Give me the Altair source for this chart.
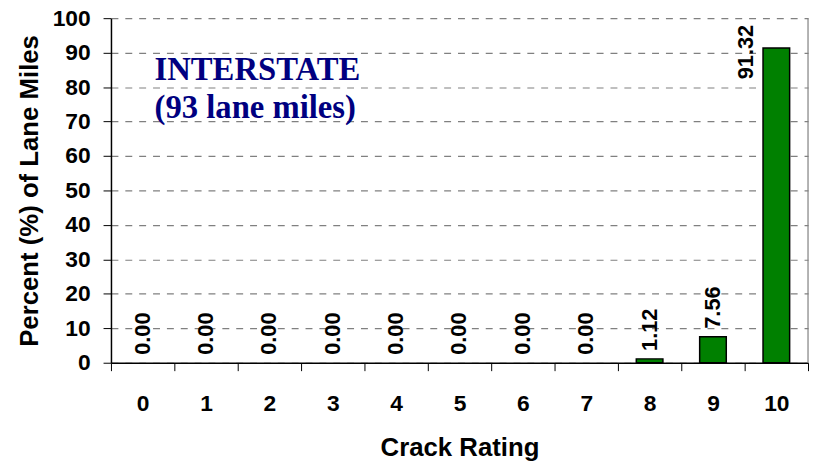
import altair as alt
import pandas as pd

ratings = ["0", "1", "2", "3", "4", "5", "6", "7", "8", "9", "10"]
percent = [0.00, 0.00, 0.00, 0.00, 0.00, 0.00, 0.00, 0.00, 1.12, 7.56, 91.32]
y_ticks = [0, 10, 20, 30, 40, 50, 60, 70, 80, 90, 100]
annotation = ["INTERSTATE", "(93 lane miles)"]

df = pd.DataFrame({"rating": ratings, "pct": percent})

W, H = 704, 348
SANS = "Liberation Sans"

x = alt.X(
    "rating:N",
    sort=ratings,
    scale=alt.Scale(paddingInner=0, paddingOuter=0),
    axis=alt.Axis(
        title="Crack Rating",
        labelAngle=0,
        tickBand="extent",
        tickSize=8,
        tickColor="black",
        domainColor="black",
        domainWidth=1.5,
        labelFont=SANS,
        labelFontSize=23,
        labelFontWeight="bold",
        labelColor="black",
        labelPadding=22,
        titleFont=SANS,
        titleFontSize=26,
        titleFontWeight="bold",
        titleColor="black",
        titlePadding=20,
        grid=False,
    ),
)
y = alt.Y(
    "pct:Q",
    scale=alt.Scale(domain=[0, 100], nice=False),
    axis=alt.Axis(
        title="Percent (%) of Lane Miles",
        values=y_ticks,
        tickCount=11,
        labelOverlap=False,
        labelFlush=False,
        tickSize=8,
        tickColor="black",
        domainColor="black",
        domainWidth=1.5,
        labelFont=SANS,
        labelFontSize=23,
        labelFontWeight="bold",
        labelColor="black",
        labelPadding=13,
        titleFont=SANS,
        titleFontSize=26,
        titleFontWeight="bold",
        titleColor="black",
        titlePadding=10,
        grid=True,
        gridColor="#808080",
        gridDash=[7, 7],
        gridWidth=1.2,
    ),
)

base = alt.Chart(df)

bars = base.transform_filter("datum.pct > 0").mark_bar(
    color="#008000", stroke="black", strokeWidth=1.5,
    width=alt.RelativeBandSize(0.42),
).encode(x=x, y=y)

labels = base.transform_filter("datum.pct < 90").mark_text(
    angle=270, align="left", baseline="middle", dx=8,
    font=SANS, fontSize=22, fontWeight="bold", color="black",
).encode(x=x, y=y, text=alt.Text("pct:Q", format=".2f"))

big_label = base.transform_filter("datum.pct >= 90").mark_text(
    angle=270, align="center", baseline="middle", dx=-4, dy=-31,
    font=SANS, fontSize=22, fontWeight="bold", color="black",
).encode(x=x, y=y, text=alt.Text("pct:Q", format=".2f"))

note = alt.Chart(pd.DataFrame({"t": [annotation]})).mark_text(
    align="left", baseline="alphabetic", font="Liberation Serif", fontSize=33,
    fontWeight="bold", color="#000080", lineHeight=39,
).encode(x=alt.value(44), y=alt.value(62), text="t:N")

right_border = alt.Chart(pd.DataFrame({"a": [0]})).mark_rule(color="#808080", strokeWidth=1.2).encode(
    x=alt.value(W), y=alt.value(0), y2=alt.value(H)
)

chart = alt.layer(bars, labels, big_label, note, right_border).properties(
    width=W, height=H,
    autosize=alt.AutoSizeParams(type="none"),
    padding={"left": 104, "top": 8, "right": 2, "bottom": 100},
).configure_view(stroke=None)

chart.save("out.html", embed_options={"renderer": "svg", "actions": False})
